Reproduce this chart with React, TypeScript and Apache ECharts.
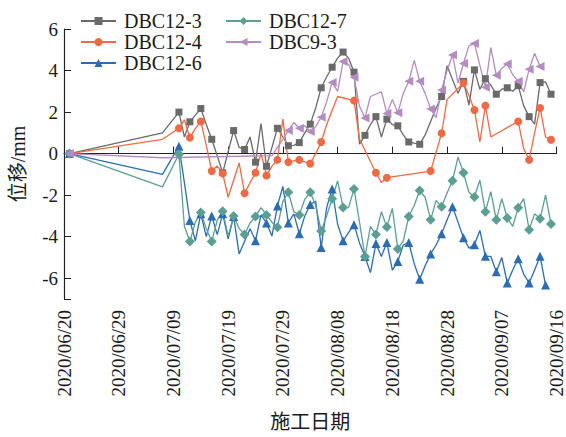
import React, { useEffect, useRef } from "react";
import * as echarts from "echarts";

// x: days counted from 2020/06/19 (ticks every 10 days)
const xTickLabels = [
  "2020/06/20", "2020/06/29", "2020/07/09", "2020/07/19", "2020/07/29",
  "2020/08/08", "2020/08/18", "2020/08/28", "2020/09/07", "2020/09/16",
];

const days = [
  1, 18,
  21, 22, 23, 24, 25, 26, 27, 28, 29, 30,
  31, 32, 33, 34, 35, 36, 37, 38, 39, 40,
  41, 42, 43, 44, 45, 46, 47, 48, 49, 50,
  51, 52, 53, 54, 55, 56, 57, 58, 59, 60,
  61, 62, 63, 64, 65, 66, 67, 68, 69, 70,
  71, 72, 73, 74, 75, 76, 77, 78, 79, 80,
  81, 82, 83, 84, 85, 86, 87, 88, 89,
];

const n = null;

const dbc12_3 = [
  0, 1.0,
  2.0, 0.8, 1.53, 1.85, 2.17, 1.4, 0.69, -0.1, -0.92, 0.1,
  1.11, 0.3, 0.2, 0.8, -0.41, 1.45, -0.61, 0.3, 1.22, 0.8,
  0.38, 0.4, 0.53, 1.0, 1.42, 2.2, 3.17, 3.7, 4.16, 4.6,
  4.89, 4.6, 3.92, 0.45, 0.88, 1.4, 1.78, 0.8, 1.66, 1.4,
  1.34, 0.9, 0.56, 0.5, 0.45, 0.9, n, 2.2, 2.75, 4.23,
  n, 2.9, 3.48, 2.33, 4.03, 3.1, 3.61, 3.3, 2.86, 3.1,
  3.17, 3.0, 3.27, 2.3, 1.78, 1.42, 3.42, 3.45, 2.86,
];

const dbc12_4 = [
  0, 0.69,
  1.22, 1.63, 0.77, 1.2, 1.55, 0.4, -0.84, -0.6, -0.95, -2.1,
  n, -0.45, -1.91, -1.4, -0.92, 0.0, -1.05, -0.6, -0.3, 1.66,
  -0.41, -0.35, -0.3, -0.4, -0.48, 0.0, 0.56, 1.4, n, 2.75,
  n, n, 2.55, 0.7, n, n, -0.92, -1.39, -1.16, n,
  n, n, n, n, n, n, -0.84, n, 0.98, 2.6,
  n, n, 3.4, 2.8, 2.1, 0.56, 2.31, 0.8, n, n,
  n, n, 1.55, 0.25, -0.3, 1.0, 2.2, 0.8, 0.67,
];

const dbc12_6 = [
  0, -1.0,
  0.36, -1.4, -3.22, -4.2, -2.9, -4.0, -3.0, -3.9, -2.9, -4.1,
  -3.03, -4.83, n, -3.62, -4.2, -2.95, -3.34, -3.97, -2.52, -1.58,
  -3.34, -2.9, -3.86, -3.0, -2.45, -2.3, -4.52, -2.6, -1.7, -3.4,
  -4.2, -3.8, -3.42, -4.3, -4.95, -5.73, -4.33, -4.95, -4.28, -5.61,
  -5.2, -4.4, -4.28, -5.3, -6.05, -5.4, -4.83, -4.4, -3.86, -3.2,
  -2.56, -3.3, -4.05, -4.55, -4.39, -3.7, -4.94, -4.95, -5.69, -5.0,
  -6.23, -5.6, -5.06, -5.8, -6.23, -5.6, -4.94, -6.33, n,
];

const dbc12_7 = [
  0, -1.6,
  -0.03, -3.5, -4.23, -3.3, -2.84, -3.6, -4.23, -3.2, -2.77, -3.97,
  -3.0, -3.6, -3.89, -3.34, -3.03, -2.6, -2.95, -3.3, -3.55, -2.3,
  -1.86, -2.8, -2.95, -2.2, -1.86, -2.5, -3.73, -3.0, -2.17, -1.31,
  -2.59, -2.6, -1.7, -3.3, -4.95, -3.5, -3.89, -2.8, -3.53, -2.64,
  -4.59, -4.2, -3.03, -2.5, -1.78, -2.1, -3.19, -2.25, -2.56, -1.9,
  -1.31, -0.17, -0.92, -1.86, -2.09, -1.27, -2.8, -1.83, -3.19, -2.17,
  -3.1, -3.5, -2.61, -2.17, -3.66, -2.9, -3.14, -2.0, -3.39,
];

const dbc9_3 = [
  0, -0.2,
  n, n, n, n, n, n, n, n, n, n,
  n, n, n, n, n, n, n, -0.1, n, 0.7,
  1.11, 1.5, 1.22, 1.35, 1.06, 1.3, 1.75, 2.5, 3.43, 3.0,
  4.43, 4.3, 3.68, 2.28, 1.72, 2.75, n, 2.98, 1.93, 2.6,
  1.97, 2.9, 3.48, 4.49, 3.48, 2.9, 2.15, 1.73, 3.06, 4.0,
  4.75, 3.4, 4.34, 5.2, 5.3, 4.25, 3.2, 5.1, 3.77, 4.1,
  4.32, 3.8, 3.48, 2.98, 4.06, 4.83, 4.19, n, n,
];

const seriesNames = ["DBC12-3", "DBC12-4", "DBC12-6", "DBC12-7", "DBC9-3"];
const seriesValues = [dbc12_3, dbc12_4, dbc12_6, dbc12_7, dbc9_3];
const colors = ["#6a6a6a", "#ee6a45", "#2c6cb0", "#5b9e94", "#b48cc2"];
const symbols = [
  "rect",
  "circle",
  "triangle",
  "diamond",
  "path://M0,5 L10,0 L10,10 Z",
];
const symbolSizes = [7, 8, 9, 10, 9];

const FONT = '"Liberation Serif", "Noto Sans CJK SC", serif';

function buildData(vals: (number | null)[], size: number) {
  let last = -1;
  vals.forEach((v, i) => {
    if (v != null) last = i;
  });
  const out: any[] = [];
  vals.forEach((v, i) => {
    if (v == null) return;
    const d = days[i];
    const marked = d % 2 === 1 || i === last;
    out.push({ value: [d, v], symbolSize: marked ? size : 0 });
  });
  return out;
}

export default function App() {
  const ref = useRef<HTMLDivElement>(null);
  useEffect(() => {
    document.body.style.margin = "0";
    if (!ref.current) return;
    const chart = echarts.init(ref.current, undefined, { renderer: "svg" });
    const legendText = {
      fontSize: 20,
      fontFamily: FONT,
      color: "#1a1a1a",
      padding: [0, 0, 0, 3],
    };
    chart.setOption({
      animation: false,
      backgroundColor: "#ffffff",
      legend: [
        {
          data: seriesNames.slice(0, 3),
          orient: "vertical",
          left: 80,
          top: 11,
          padding: 0,
          itemWidth: 35,
          itemHeight: 10,
          itemGap: 1,
          textStyle: legendText,
        },
        {
          data: seriesNames.slice(3),
          orient: "vertical",
          left: 225,
          top: 11,
          padding: 0,
          itemWidth: 35,
          itemHeight: 10,
          itemGap: 1,
          textStyle: legendText,
        },
      ],
      grid: { left: 60, right: 8, top: 29, bottom: 130, containLabel: false },
      xAxis: {
        type: "value",
        min: 0,
        max: 90,
        interval: 10,
        name: "施工日期",
        nameLocation: "middle",
        nameGap: 113,
        nameTextStyle: { fontSize: 20, fontFamily: FONT, color: "#1a1a1a" },
        axisLine: { show: true, lineStyle: { color: "#222", width: 1.2 } },
        axisTick: { show: true, inside: true, length: 7, lineStyle: { color: "#222" } },
        splitLine: { show: false },
        axisLabel: {
          rotate: 90,
          margin: 11,
          fontSize: 19,
          fontFamily: FONT,
          color: "#1a1a1a",
          formatter: (v: number) => xTickLabels[Math.round(v / 10)] ?? "",
        },
      },
      yAxis: {
        type: "value",
        min: -7,
        max: 6,
        splitNumber: 6,
        name: "位移/mm",
        nameLocation: "middle",
        nameGap: 36,
        nameTextStyle: { fontSize: 20, fontFamily: FONT, color: "#1a1a1a" },
        axisLine: { show: true, lineStyle: { color: "#222", width: 1.2 } },
        axisTick: { show: true, inside: true, length: 7, lineStyle: { color: "#222" } },
        splitLine: { show: false },
        axisLabel: {
          margin: 6,
          fontSize: 19,
          fontFamily: FONT,
          color: "#1a1a1a",
          formatter: (v: number) => (v === -7 ? "" : String(v)),
        },
      },
      series: seriesNames.map((name, k) => ({
        name,
        type: "line",
        data: buildData(seriesValues[k], symbolSizes[k]),
        symbol: symbols[k],
        symbolSize: symbolSizes[k],
        showAllSymbol: true,
        color: colors[k],
        lineStyle: { width: 1.3, color: colors[k] },
        itemStyle: { color: colors[k] },
      })),
    });
    return () => chart.dispose();
  }, []);
  return <div ref={ref} style={{ width: 566, height: 437 }} />;
}
